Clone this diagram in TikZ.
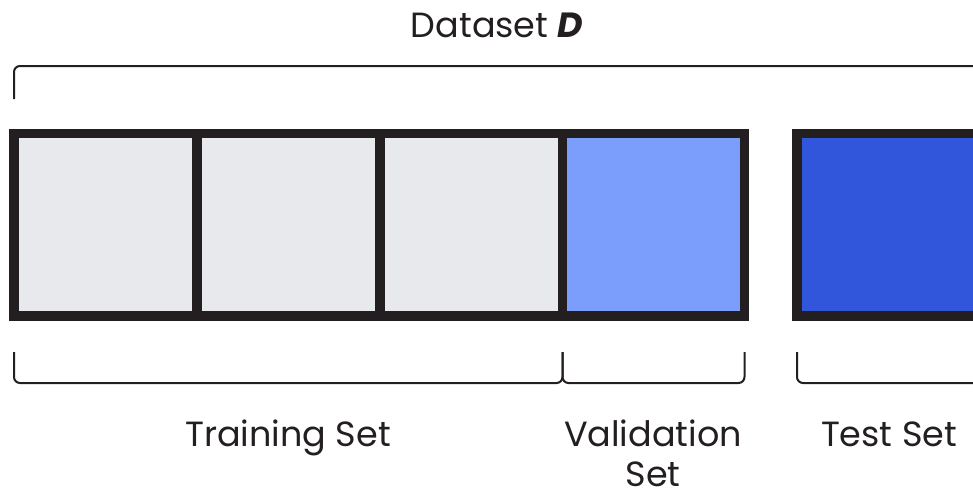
\documentclass[tikz,border=0pt]{standalone}
\usepackage{fontspec}
\setmainfont{Poppins}
\definecolor{edge}{HTML}{231F20}
\definecolor{trainfill}{HTML}{E8E9ED}
\definecolor{valfill}{HTML}{7B9EFD}
\definecolor{testfill}{HTML}{3256DB}
\begin{document}
\begin{tikzpicture}[x=1pt,y=-1pt,
  cell/.style={draw=edge,line width=9.5pt,minimum width=183pt,minimum height=182.5pt,
    inner sep=0pt,outer sep=0pt,anchor=north west},
  brace/.style={draw=edge,line width=2pt,rounded corners=6pt},
  lbl/.style={font=\fontsize{35}{39.5}\selectfont,text=edge,inner sep=0pt,anchor=base,align=center}]
\useasboundingbox (0,0) rectangle (973,491);
\begin{scope}
\clip (0,0) rectangle (973,491);
% cells
\node[cell,fill=trainfill] (t1) at (14,133.5) {};
\node[cell,fill=trainfill] (t2) at (197,133.5) {};
\node[cell,fill=trainfill] (t3) at (380,133.5) {};
\node[cell,fill=valfill,minimum width=182pt] (va) at (562.5,133.5) {};
\node[cell,fill=testfill] (te) at (797,133.5) {};
% brace anchors
\coordinate (dsL) at (14,99);
\coordinate (dsR) at (980,99);
\coordinate (trL) at (14,352);
\coordinate (trR) at (562.5,352);
\coordinate (vaR) at (744.5,352);
\coordinate (teL) at (797,352);
\coordinate (teR) at (980,352);
% braces
\draw[brace] (dsL) |- (980,66) -- (dsR);
\draw[brace] (trL) |- (562.5,383) -- (trR);
\draw[brace] (trR) |- (744.5,383) -- (vaR);
\draw[brace] (teL) |- (980,383) -- (teR);
% labels
\node[lbl] (title) at (497,37) {Dataset \textbf{\textit{D}}};
\node[lbl] (trlab) at (288,446.7) {Training Set};
\node[lbl] (valab) at (653,486) {Validation\\Set};
\node[lbl] (telab) at (889,446.7) {Test Set};
\end{scope}
\end{tikzpicture}
\end{document}
